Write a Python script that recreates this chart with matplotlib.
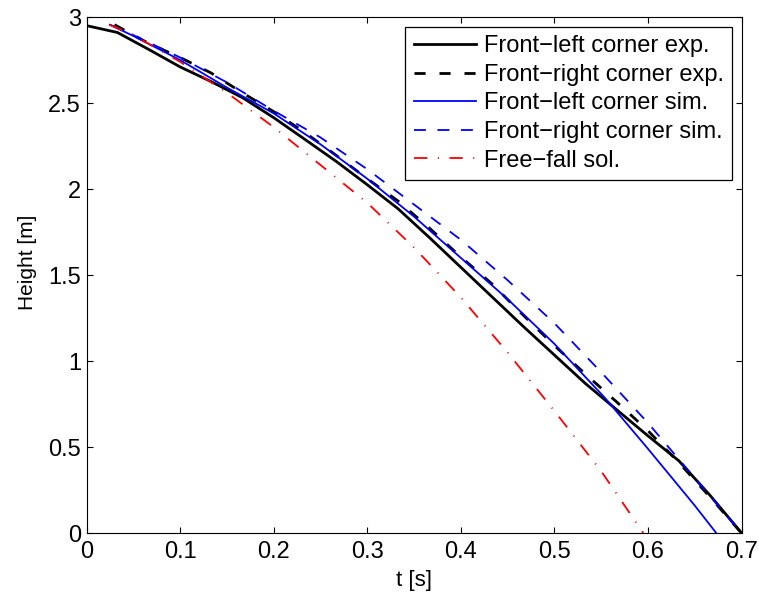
import matplotlib

matplotlib.use("Agg")
import matplotlib.pyplot as plt
from matplotlib.ticker import FixedLocator, FuncFormatter

# ---------------------------------------------------------------------------
# Data
# ---------------------------------------------------------------------------
t_fl_exp = [0.0, 0.033, 0.067, 0.1, 0.133, 0.167, 0.2, 0.233, 0.267, 0.3, 0.333,
            0.367, 0.4, 0.433, 0.467, 0.5, 0.533, 0.567, 0.6, 0.633, 0.667, 0.7]
h_fl_exp = [2.95, 2.91, 2.81, 2.71, 2.625, 2.53, 2.415, 2.29, 2.16, 2.025, 1.885,
            1.715, 1.545, 1.375, 1.20, 1.035, 0.87, 0.715, 0.565, 0.42, 0.215, 0.0]

t_fr_exp = [0.03, 0.067, 0.1, 0.133, 0.167, 0.2, 0.233, 0.267, 0.3, 0.333, 0.367,
            0.4, 0.433, 0.467, 0.5, 0.533, 0.567, 0.6, 0.633, 0.667, 0.7]
h_fr_exp = [2.955, 2.845, 2.765, 2.675, 2.558, 2.45, 2.33, 2.195, 2.06, 1.93, 1.77,
            1.605, 1.45, 1.265, 1.09, 0.925, 0.76, 0.595, 0.41, 0.205, 0.0]

t_fl_sim = [0.025, 0.05, 0.1, 0.15, 0.2, 0.25, 0.3, 0.35, 0.4, 0.45, 0.5, 0.555,
            0.6, 0.65, 0.673]
h_fl_sim = [2.955, 2.89, 2.75, 2.59, 2.44, 2.26, 2.06, 1.84, 1.60, 1.36, 1.10, 0.78,
            0.49, 0.16, 0.0]

t_fr_sim = [0.025, 0.05, 0.1, 0.15, 0.2, 0.25, 0.3, 0.35, 0.4, 0.45, 0.5, 0.55,
            0.6, 0.65, 0.7]
h_fr_sim = [2.955, 2.895, 2.765, 2.62, 2.455, 2.30, 2.115, 1.91, 1.705, 1.47, 1.22,
            0.935, 0.64, 0.32, 0.0]

t_free = [0.025, 0.05, 0.1, 0.15, 0.2, 0.25, 0.3, 0.35, 0.4, 0.45, 0.5, 0.55, 0.595]
h_free = [2.955, 2.895, 2.74, 2.56, 2.36, 2.14, 1.92, 1.66, 1.37, 1.05, 0.71, 0.36, 0.0]

labels = [
    "Front\u2212left corner exp.",
    "Front\u2212right corner exp.",
    "Front\u2212left corner sim.",
    "Front\u2212right corner sim.",
    "Free\u2212fall sol.",
]

x_ticks = [0, 0.1, 0.2, 0.3, 0.4, 0.5, 0.6, 0.7]
y_ticks = [0, 0.5, 1, 1.5, 2, 2.5, 3]

plt.rcParams["font.family"] = ["Liberation Sans", "DejaVu Sans"]

fig = plt.figure(figsize=(7.59, 5.99), dpi=100)
ax = fig.add_axes([86.5 / 759, 66 / 599, 655 / 759, 516 / 599])

ax.plot(t_fl_exp, h_fl_exp, color="black", lw=2.0, label=labels[0])
ax.plot(t_fr_exp, h_fr_exp, color="black", lw=2.0, ls=(0, (4.0, 5.0)), label=labels[1])
ax.plot(t_fl_sim, h_fl_sim, color="#0000ff", lw=1.3, label=labels[2])
ax.plot(t_fr_sim, h_fr_sim, color="#0000ff", lw=1.3, ls=(0, (6.6, 6.4)), label=labels[3])
ax.plot(t_free, h_free, color="#ff0000", lw=1.3,
        ls=(0, (7.4, 5.8, 0.6, 5.8)), label=labels[4])

ax.set_xlim(0, 0.7)
ax.set_ylim(0, 3)
ax.xaxis.set_major_locator(FixedLocator(x_ticks))
ax.yaxis.set_major_locator(FixedLocator(y_ticks))
ax.xaxis.set_major_formatter(FuncFormatter(lambda v, p: f"{v:g}"))
ax.yaxis.set_major_formatter(FuncFormatter(lambda v, p: f"{v:g}"))

ax.tick_params(direction="in", length=4.3, width=0.8, top=True, right=True,
               labelsize=17)
ax.tick_params(axis="x", pad=5.5)
ax.tick_params(axis="y", pad=4)
for sp in ax.spines.values():
    sp.set_linewidth(0.8)

ax.set_xlabel("t [s]", fontsize=16, labelpad=5)
ax.set_ylabel("Height [m]", fontsize=15)
ax.yaxis.set_label_coords(-0.076, 0.525)

leg = ax.legend(loc="upper right", bbox_to_anchor=(0.9855, 0.9806), borderaxespad=0,
                fontsize=17, handlelength=2.63, handletextpad=0.34, labelspacing=0.28,
                borderpad=0.35, fancybox=False, framealpha=1, edgecolor="black")
leg.get_frame().set_linewidth(0.9)

fig.savefig("out.png", dpi=100)
